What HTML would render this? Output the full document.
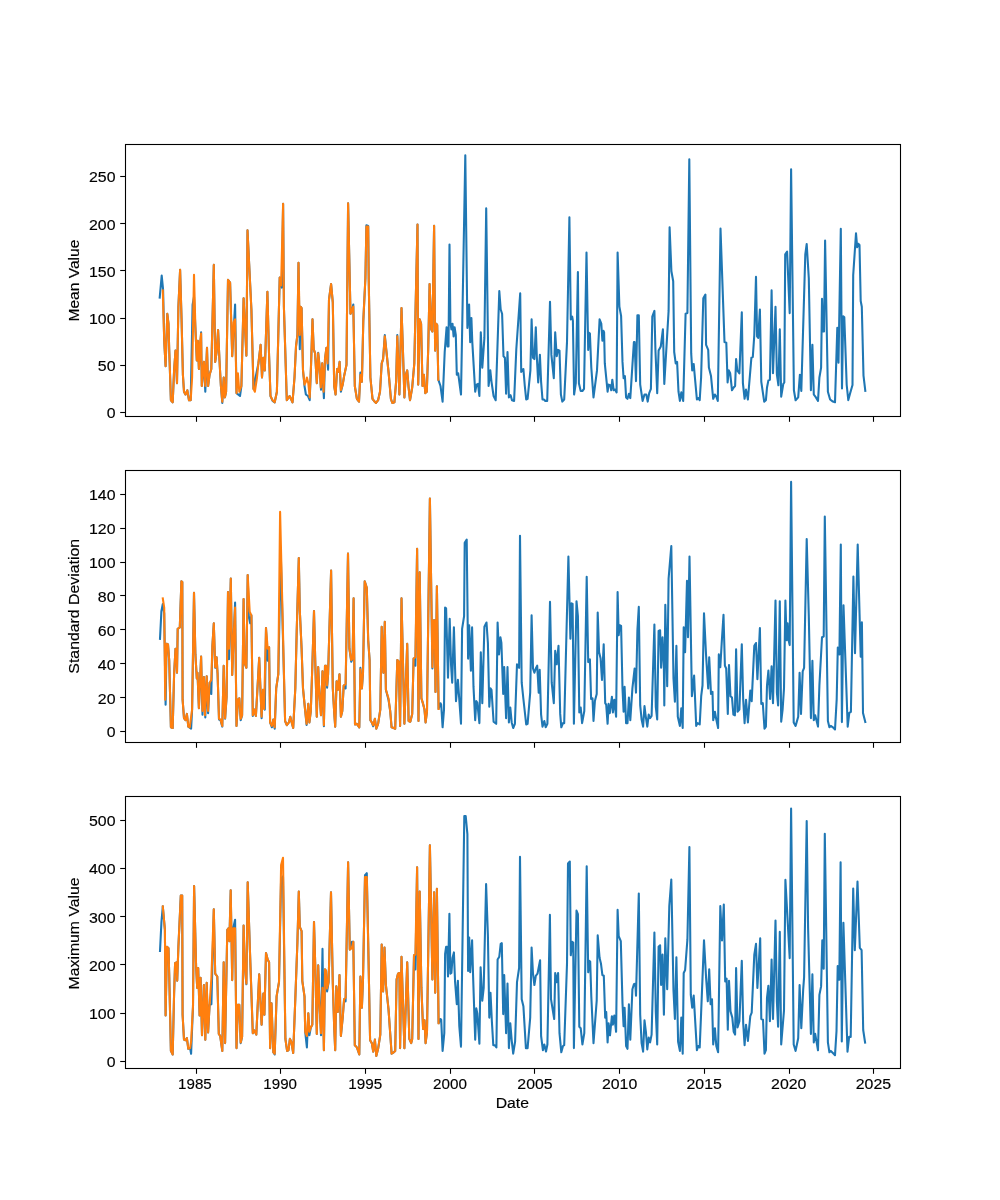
<!DOCTYPE html>
<html><head><meta charset="utf-8"><style>
html,body{margin:0;padding:0;background:#fff;}
svg{display:block;will-change:transform;}
svg text{font-family:"Liberation Sans",sans-serif;fill:#000;stroke:#000;stroke-width:0.15px;}
</style></head><body>
<svg width="1000" height="1200" viewBox="0 0 1000 1200">
<rect width="1000" height="1200" fill="#ffffff"/>
<svg x="125.0" y="144.0" width="775.0" height="271.76" viewBox="125.0 144.0 775.0 271.76" overflow="hidden">
<path d="M159.7,297.5 L161.7,275.5 L163.1,289.7 L164.2,340.7 L165.6,366.2 L167.3,313.8 L168.5,323.7 L169.2,349.2 L170.9,400.2 L172.7,402.3 L174.1,370.4 L175.5,350.6 L177.0,383.2 L178.4,306.7 L180.1,269.8 L181.6,320.9 L182.9,374.7 L184.0,391.7 L185.5,394.5 L187.3,390.3 L189.0,400.2 L190.7,400.2 L192.6,304.6 L194.0,296.8 L195.4,327.9 L196.8,360.5 L197.8,340.7 L198.9,369.0 L201.1,332.2 L201.8,386.0 L203.9,361.9 L205.3,391.7 L207.0,347.8 L208.1,386.0 L209.6,374.7 L211.3,369.0 L212.4,323.7 L213.8,264.9 L215.2,361.9 L216.6,352.0 L218.1,330.1 L219.5,360.5 L220.9,386.0 L222.3,403.0 L223.7,377.5 L224.9,397.4 L226.1,391.7 L228.0,279.8 L230.1,282.6 L232.2,356.3 L235.1,304.6 L236.5,393.1 L240.0,396.0 L241.4,386.0 L243.6,298.2 L246.4,355.6 L247.5,230.2 L251.4,309.5 L253.5,388.9 L255.6,377.5 L258.4,363.4 L260.6,344.9 L262.0,377.5 L263.4,357.7 L264.8,370.4 L267.4,291.8 L269.1,356.3 L270.5,396.0 L272.6,400.9 L274.7,402.3 L276.9,391.7 L279.7,277.6 L281.8,287.6 L283.1,203.7 L283.9,306.7 L286.8,400.2 L289.6,396.0 L292.5,402.3 L294.5,377.5 L296.0,346.4 L297.4,335.0 L298.5,262.8 L299.8,349.2 L300.6,306.7 L301.6,308.1 L303.0,370.4 L304.5,386.0 L305.9,394.5 L308.0,396.0 L309.7,400.2 L311.1,363.4 L312.5,319.4 L313.7,349.2 L315.1,353.4 L316.8,383.2 L318.2,352.7 L319.3,363.4 L321.0,389.6 L322.2,363.4 L323.9,398.1 L325.0,359.1 L326.4,347.8 L328.1,369.7 L329.0,299.6 L331.1,284.0 L332.8,302.4 L334.2,386.0 L335.6,394.5 L337.1,369.0 L338.2,371.9 L339.6,361.9 L340.9,391.7 L342.7,384.6 L344.1,376.1 L346.5,364.8 L348.1,203.4 L350.5,313.8 L352.2,309.5 L353.3,304.6 L354.8,386.0 L356.9,398.8 L359.0,401.6 L360.4,372.6 L361.9,381.8 L363.3,320.9 L365.4,278.3 L366.4,225.2 L368.2,225.9 L368.7,278.3 L370.4,377.5 L372.5,398.8 L374.6,401.6 L376.0,403.0 L378.1,400.2 L380.0,391.7 L381.7,363.4 L383.1,359.1 L384.8,335.0 L386.2,349.2 L388.8,374.7 L390.9,398.8 L392.3,403.0 L394.4,402.3 L396.1,381.8 L397.3,335.0 L399.4,394.5 L401.5,308.1 L402.9,349.2 L404.4,397.4 L405.8,374.7 L407.2,370.4 L408.6,387.5 L410.0,400.2 L412.2,387.5 L414.3,363.4 L417.5,224.5 L418.2,384.6 L419.7,319.4 L421.1,323.7 L422.5,386.0 L423.9,374.7 L425.3,393.1 L426.8,391.7 L428.2,349.2 L429.6,284.0 L431.3,329.4 L432.4,331.5 L434.1,225.8 L435.1,350.6 L436.2,323.7 L437.2,325.1 L438.3,379.7 L440.5,386.0 L442.6,401.6 L444.7,352.0 L446.6,327.2 L447.5,346.4 L448.5,346.4 L449.5,244.6 L450.4,322.3 L451.4,329.4 L452.5,323.7 L453.6,336.4 L454.6,327.2 L455.8,335.0 L456.8,374.7 L458.2,373.3 L461.0,394.5 L465.3,155.3 L467.4,327.9 L469.1,304.6 L470.2,342.1 L471.4,318.0 L472.3,342.1 L473.8,367.6 L475.2,391.7 L476.6,384.6 L478.0,383.9 L479.4,396.0 L480.8,332.2 L482.3,367.6 L484.4,337.9 L486.2,208.3 L488.6,386.0 L490.3,370.4 L491.5,381.8 L493.6,396.0 L495.7,400.2 L499.3,291.1 L500.7,309.5 L502.1,313.8 L503.5,356.3 L504.9,357.7 L506.1,393.8 L507.5,352.0 L508.9,397.4 L510.6,395.2 L512.0,400.2 L514.1,400.9 L516.3,349.2 L520.2,293.2 L521.2,371.9 L523.4,369.0 L524.8,386.0 L526.2,399.5 L527.6,398.8 L530.4,370.4 L531.6,319.4 L533.0,357.7 L534.4,359.1 L535.8,327.2 L536.8,356.3 L538.2,382.5 L539.9,354.9 L541.1,381.8 L542.5,399.5 L543.9,399.5 L545.3,400.9 L547.2,400.9 L550.0,301.7 L551.4,354.9 L553.8,378.2 L555.2,332.2 L556.7,356.3 L558.1,349.9 L559.5,350.6 L560.9,394.5 L562.3,401.6 L564.2,399.5 L567.0,342.1 L569.4,217.3 L570.8,319.4 L572.2,316.6 L572.9,320.9 L574.1,394.5 L575.8,383.2 L577.9,272.0 L578.9,383.2 L580.7,391.0 L582.4,391.0 L584.0,388.9 L586.5,252.6 L588.2,349.9 L589.2,332.9 L589.9,333.6 L591.3,367.6 L593.5,397.4 L597.0,370.4 L599.6,319.4 L601.3,323.7 L602.4,340.7 L603.4,330.8 L604.1,332.2 L604.8,363.4 L607.6,391.7 L608.6,384.6 L610.2,385.3 L611.2,390.3 L612.3,379.7 L613.7,390.3 L615.1,389.6 L616.6,392.4 L617.6,252.6 L619.4,306.7 L621.1,315.9 L622.5,361.9 L623.6,378.2 L624.9,376.1 L626.1,397.4 L627.5,398.8 L628.9,393.8 L630.3,398.1 L633.9,342.1 L634.6,342.1 L636.0,381.1 L637.4,315.2 L638.8,315.2 L640.2,384.6 L642.6,400.9 L644.5,394.5 L646.3,394.5 L647.7,401.6 L649.2,393.1 L650.9,388.9 L652.3,316.6 L654.4,310.9 L655.4,349.2 L657.2,393.1 L658.6,350.6 L660.8,346.4 L662.9,329.4 L664.3,383.9 L668.6,310.9 L669.6,227.3 L671.4,271.3 L673.2,281.2 L674.2,352.0 L675.7,363.4 L677.1,361.9 L678.5,391.7 L679.9,400.9 L681.3,392.4 L683.2,400.9 L685.6,313.8 L687.4,313.1 L689.3,159.2 L691.2,353.4 L692.2,370.4 L693.7,364.1 L696.9,399.5 L698.3,398.1 L699.7,400.2 L701.1,377.5 L703.3,298.2 L705.4,294.6 L706.1,344.9 L708.2,349.9 L708.9,367.6 L711.0,376.1 L713.2,398.8 L714.9,394.5 L716.3,396.7 L717.8,400.9 L720.5,228.6 L724.5,342.1 L726.3,342.8 L727.6,382.5 L728.8,370.4 L730.2,373.3 L732.0,390.3 L733.7,387.5 L735.1,386.0 L736.1,359.1 L737.3,370.4 L739.4,373.3 L741.8,312.3 L742.9,383.2 L744.6,398.8 L746.0,389.6 L747.9,399.5 L751.4,357.7 L752.8,357.0 L754.3,335.0 L756.0,276.9 L757.1,336.4 L758.2,337.9 L759.9,309.5 L761.3,381.8 L764.2,401.6 L765.9,400.2 L767.0,387.5 L768.4,380.4 L769.9,379.7 L771.6,290.4 L773.0,373.3 L775.5,306.7 L776.9,374.7 L778.4,385.3 L779.8,329.4 L781.2,396.7 L783.3,383.9 L784.3,382.5 L785.2,254.3 L787.1,251.7 L789.7,313.1 L791.1,169.2 L793.9,390.3 L795.6,400.2 L798.2,397.4 L799.9,374.7 L801.3,391.0 L805.3,254.3 L806.7,244.0 L808.8,278.3 L810.9,390.3 L812.4,344.9 L813.8,394.5 L815.9,397.4 L818.0,400.9 L819.4,377.5 L821.1,367.6 L822.0,298.9 L823.0,331.5 L824.0,331.5 L825.1,240.5 L827.9,391.7 L830.1,399.5 L832.9,401.6 L835.0,402.3 L837.3,327.8 L838.5,362.8 L840.8,228.7 L842.0,388.5 L843.2,316.2 L844.3,317.3 L846.7,385.0 L848.3,400.1 L850.2,393.1 L852.5,385.0 L853.2,275.3 L856.0,233.3 L857.2,247.3 L858.3,243.8 L859.5,245.0 L860.7,301.0 L861.8,306.8 L863.5,375.7 L865.3,390.8" fill="none" stroke="#1f77b4" stroke-width="2.08" stroke-linejoin="round" stroke-linecap="square"/>
<path d="M162.8,290.4 L164.2,340.7 L165.6,366.2 L167.3,313.8 L168.5,323.7 L169.2,349.2 L170.9,400.2 L172.7,402.3 L174.1,370.4 L175.5,350.6 L177.0,383.2 L178.4,306.7 L180.1,269.8 L181.6,320.9 L182.9,374.7 L184.0,391.7 L185.5,394.5 L187.3,390.3 L189.0,400.2 L190.7,400.2 L192.1,377.5 L194.0,274.8 L195.4,327.9 L196.8,360.5 L197.8,340.7 L198.9,369.0 L200.1,342.1 L201.1,333.6 L201.8,386.0 L203.9,361.9 L205.3,386.0 L207.0,347.8 L208.1,386.0 L209.6,374.7 L211.3,369.0 L212.4,323.7 L213.8,264.9 L215.2,361.9 L216.6,352.0 L218.1,330.1 L219.5,360.5 L220.9,386.0 L222.3,401.6 L223.7,377.5 L224.9,397.4 L226.1,391.7 L228.0,279.8 L230.1,282.6 L232.2,356.3 L233.6,322.3 L235.1,319.4 L236.5,393.1 L237.9,373.3 L239.3,391.7 L241.4,386.0 L243.6,298.2 L246.4,355.6 L247.5,230.2 L251.4,309.5 L253.5,388.9 L254.9,391.7 L257.0,377.5 L258.4,363.4 L260.6,344.9 L262.0,377.5 L263.4,357.7 L264.8,370.4 L267.4,291.8 L269.1,356.3 L270.5,396.0 L272.6,400.2 L274.7,402.3 L276.9,391.7 L279.7,277.6 L281.1,285.4 L283.1,203.7 L283.9,306.7 L286.8,400.2 L289.6,396.0 L292.5,402.3 L294.5,377.5 L296.0,346.4 L297.4,335.0 L298.5,262.8 L299.8,335.0 L300.6,306.7 L301.6,308.1 L303.0,370.4 L304.5,384.6 L305.9,381.8 L306.9,377.5 L308.3,383.2 L309.7,397.4 L311.1,363.4 L312.5,319.4 L313.7,349.2 L315.1,353.4 L316.8,383.2 L318.2,353.4 L319.3,363.4 L320.8,387.5 L322.2,363.4 L323.6,391.7 L325.0,359.1 L326.4,347.8 L327.6,363.4 L329.0,299.6 L331.1,284.0 L332.8,302.4 L334.2,386.0 L335.6,394.5 L337.1,369.0 L338.2,371.9 L339.6,361.9 L340.9,390.3 L342.7,384.6 L344.1,376.1 L346.5,364.8 L348.1,203.4 L350.5,313.8 L352.2,309.5 L353.3,306.7 L354.8,386.0 L356.9,398.8 L359.0,401.6 L360.4,374.7 L361.9,381.8 L363.3,320.9 L365.4,278.3 L366.4,226.6 L368.2,226.6 L368.7,278.3 L370.4,377.5 L372.5,398.8 L374.6,401.6 L376.0,403.0 L378.1,400.2 L380.0,391.7 L381.7,363.4 L383.1,359.1 L384.8,336.4 L386.2,349.2 L388.8,374.7 L390.9,398.8 L392.3,403.0 L394.4,402.3 L396.1,381.8 L397.3,336.4 L399.4,394.5 L401.5,308.1 L402.9,349.2 L404.4,397.4 L405.8,374.7 L407.2,370.4 L408.6,387.5 L410.0,400.2 L412.2,387.5 L414.3,363.4 L417.5,224.5 L418.2,384.6 L419.7,319.4 L421.1,323.7 L422.5,386.0 L423.9,374.7 L425.3,393.1 L426.8,391.7 L428.2,349.2 L429.6,284.0 L431.3,329.4 L432.4,331.5 L434.1,225.8 L435.1,350.6 L436.2,323.7 L437.2,325.1 L438.3,379.7" fill="none" stroke="#ff7f0e" stroke-width="2.08" stroke-linejoin="round" stroke-linecap="square"/>
</svg>
<rect x="125.5" y="144.5" width="775" height="272.0" fill="none" stroke="#000" stroke-width="1.1" stroke-linejoin="miter"/>
<line x1="196.50" y1="416.5" x2="196.50" y2="421.80" stroke="#000" stroke-width="1.1"/>
<line x1="280.50" y1="416.5" x2="280.50" y2="421.80" stroke="#000" stroke-width="1.1"/>
<line x1="365.50" y1="416.5" x2="365.50" y2="421.80" stroke="#000" stroke-width="1.1"/>
<line x1="450.50" y1="416.5" x2="450.50" y2="421.80" stroke="#000" stroke-width="1.1"/>
<line x1="534.50" y1="416.5" x2="534.50" y2="421.80" stroke="#000" stroke-width="1.1"/>
<line x1="619.50" y1="416.5" x2="619.50" y2="421.80" stroke="#000" stroke-width="1.1"/>
<line x1="704.50" y1="416.5" x2="704.50" y2="421.80" stroke="#000" stroke-width="1.1"/>
<line x1="789.50" y1="416.5" x2="789.50" y2="421.80" stroke="#000" stroke-width="1.1"/>
<line x1="873.50" y1="416.5" x2="873.50" y2="421.80" stroke="#000" stroke-width="1.1"/>
<line x1="120.2" y1="412.50" x2="125.5" y2="412.50" stroke="#000" stroke-width="1.1"/>
<text x="115.50" y="418.40" font-size="13.89" text-anchor="end" textLength="8.8" lengthAdjust="spacingAndGlyphs">0</text>
<line x1="120.2" y1="365.50" x2="125.5" y2="365.50" stroke="#000" stroke-width="1.1"/>
<text x="115.50" y="371.20" font-size="13.89" text-anchor="end" textLength="17.7" lengthAdjust="spacingAndGlyphs">50</text>
<line x1="120.2" y1="318.50" x2="125.5" y2="318.50" stroke="#000" stroke-width="1.1"/>
<text x="115.50" y="324.00" font-size="13.89" text-anchor="end" textLength="26.5" lengthAdjust="spacingAndGlyphs">100</text>
<line x1="120.2" y1="270.50" x2="125.5" y2="270.50" stroke="#000" stroke-width="1.1"/>
<text x="115.50" y="276.80" font-size="13.89" text-anchor="end" textLength="26.5" lengthAdjust="spacingAndGlyphs">150</text>
<line x1="120.2" y1="223.50" x2="125.5" y2="223.50" stroke="#000" stroke-width="1.1"/>
<text x="115.50" y="229.60" font-size="13.89" text-anchor="end" textLength="26.5" lengthAdjust="spacingAndGlyphs">200</text>
<line x1="120.2" y1="176.50" x2="125.5" y2="176.50" stroke="#000" stroke-width="1.1"/>
<text x="115.50" y="182.40" font-size="13.89" text-anchor="end" textLength="26.5" lengthAdjust="spacingAndGlyphs">250</text>
<text transform="translate(79.3,280.60) rotate(-90)" x="0" y="0" font-size="13.89" text-anchor="middle" textLength="81.8" lengthAdjust="spacingAndGlyphs">Mean Value</text>
<svg x="125.0" y="470.12" width="775.0" height="271.76" viewBox="125.0 470.12 775.0 271.76" overflow="hidden">
<path d="M160.0,638.8 L161.4,611.1 L162.8,604.0 L164.2,613.3 L165.6,704.7 L166.6,643.7 L168.0,644.4 L169.2,660.0 L170.9,727.3 L172.7,728.0 L174.1,674.2 L175.5,648.7 L176.5,650.1 L177.0,672.8 L177.7,628.8 L179.8,627.4 L181.4,581.4 L182.3,582.1 L182.6,699.7 L184.0,718.1 L185.5,720.2 L186.9,713.9 L188.3,726.6 L191.1,728.7 L192.1,709.6 L194.0,592.7 L195.4,654.4 L196.8,678.4 L197.5,672.8 L198.9,708.2 L201.1,656.5 L202.5,714.6 L203.9,677.0 L205.3,717.4 L206.7,676.3 L208.1,713.2 L209.6,682.7 L211.3,694.0 L212.4,645.9 L213.8,623.2 L215.2,667.8 L216.6,657.2 L217.6,674.2 L219.0,719.5 L220.5,720.2 L222.3,726.6 L223.7,665.7 L225.1,718.8 L226.6,696.9 L228.0,592.0 L229.0,659.3 L230.8,578.5 L232.2,674.9 L233.6,637.3 L235.1,602.6 L236.5,725.9 L237.9,699.7 L239.3,698.3 L240.7,720.2 L242.1,715.3 L243.6,599.1 L244.6,662.9 L246.4,667.8 L247.7,575.0 L248.8,616.1 L250.2,623.2 L251.4,615.4 L252.8,716.0 L254.2,709.6 L255.9,716.0 L259.2,657.9 L261.6,718.1 L263.0,689.8 L264.8,709.6 L266.0,628.1 L267.7,660.7 L269.1,647.3 L270.1,722.4 L271.9,727.3 L273.3,719.5 L274.7,728.7 L276.2,688.4 L278.3,674.2 L280.8,554.6 L285.1,721.0 L286.8,725.2 L288.9,722.4 L290.3,716.7 L291.7,722.4 L293.2,728.0 L295.3,688.4 L296.7,631.7 L298.8,558.1 L299.8,610.4 L301.6,648.7 L303.0,688.4 L305.2,711.0 L306.6,724.9 L308.3,703.9 L309.4,722.4 L310.8,711.0 L312.3,667.1 L314.0,611.1 L315.4,667.1 L316.8,716.7 L318.2,667.1 L319.3,691.2 L321.0,715.3 L322.5,671.4 L323.9,726.3 L325.0,665.7 L326.1,665.7 L327.1,687.7 L328.1,674.2 L331.1,570.5 L332.8,688.4 L334.2,712.5 L335.2,726.6 L336.6,681.3 L337.8,689.8 L339.5,674.2 L340.9,716.7 L342.3,711.0 L343.7,685.5 L345.6,688.4 L348.0,553.5 L349.4,648.7 L351.2,661.7 L352.6,658.6 L353.6,598.4 L355.0,724.5 L356.9,723.8 L359.3,727.3 L360.4,667.8 L361.9,688.4 L363.0,672.8 L364.7,581.4 L366.8,587.8 L368.2,640.2 L369.6,660.0 L370.4,720.2 L371.8,722.4 L373.2,726.3 L374.9,718.8 L376.3,728.7 L378.1,723.8 L380.3,709.6 L381.7,626.7 L383.4,672.8 L384.8,621.8 L385.9,689.8 L388.5,699.7 L390.2,711.0 L391.6,727.3 L393.7,728.0 L395.2,728.7 L397.3,660.0 L398.7,661.4 L400.1,725.9 L401.5,598.4 L404.4,723.8 L407.2,643.7 L408.6,721.0 L410.3,721.7 L412.2,713.9 L413.6,658.6 L415.4,665.7 L417.1,548.8 L418.5,721.0 L419.7,572.2 L421.4,698.3 L423.1,703.9 L424.5,709.6 L425.6,722.4 L427.0,711.0 L429.9,498.6 L432.4,668.5 L433.8,620.3 L434.8,620.3 L435.5,691.9 L436.9,586.3 L438.6,708.9 L440.5,703.2 L441.2,704.7 L442.6,727.3 L444.0,709.6 L445.1,607.6 L446.1,608.3 L448.0,677.7 L449.7,618.9 L451.1,665.7 L452.2,682.7 L453.9,627.4 L456.0,701.1 L457.9,679.9 L461.0,723.8 L462.1,628.8 L464.1,616.1 L464.7,542.7 L466.7,539.6 L468.1,658.6 L469.2,625.3 L470.9,670.6 L472.1,627.4 L473.5,686.9 L475.2,720.2 L476.3,701.1 L477.3,702.5 L479.4,723.1 L480.8,652.2 L482.3,703.2 L484.4,626.7 L486.5,622.5 L487.9,643.0 L489.3,706.8 L490.5,688.4 L491.5,689.8 L493.6,721.7 L496.2,723.8 L497.6,622.5 L499.0,654.4 L500.4,637.3 L501.4,643.0 L503.2,694.0 L504.2,667.1 L506.1,718.1 L507.5,667.1 L508.9,722.4 L510.3,707.5 L511.7,722.4 L513.2,728.0 L514.9,723.8 L517.0,664.3 L519.1,667.8 L520.0,535.7 L521.7,682.7 L523.4,699.0 L526.2,724.5 L527.6,723.8 L530.2,692.6 L531.6,615.4 L533.0,668.5 L534.4,672.8 L535.8,668.5 L537.2,665.7 L538.7,692.6 L539.7,669.9 L541.1,714.6 L542.5,726.6 L544.3,721.0 L545.7,727.3 L547.4,723.8 L550.0,601.9 L551.7,682.7 L553.8,703.2 L555.2,650.8 L556.7,664.3 L558.5,645.9 L560.2,713.9 L561.3,727.3 L563.0,723.1 L564.2,723.1 L566.5,631.7 L568.4,556.6 L570.4,638.8 L571.5,603.3 L572.6,604.0 L573.9,723.8 L576.5,601.2 L577.9,616.1 L579.3,712.5 L580.7,707.5 L582.1,723.1 L584.3,711.0 L586.7,576.8 L588.2,662.1 L589.9,659.3 L591.1,699.0 L592.5,698.3 L593.5,721.0 L594.9,701.1 L596.7,694.0 L597.7,612.6 L599.1,652.2 L600.6,658.6 L602.0,679.9 L603.7,644.4 L605.2,703.2 L606.2,704.7 L607.6,723.8 L608.6,703.9 L609.8,713.2 L611.9,696.9 L612.9,712.5 L614.3,699.7 L616.1,716.7 L617.6,592.0 L618.7,635.2 L619.7,625.3 L621.1,626.0 L622.5,688.4 L623.6,711.7 L624.6,686.9 L626.1,723.1 L627.5,723.1 L628.9,697.6 L630.3,720.2 L632.4,688.4 L634.6,668.5 L636.0,692.6 L637.4,630.3 L638.8,606.9 L640.2,705.4 L641.6,719.5 L643.1,726.6 L644.5,706.1 L645.6,715.3 L647.3,726.6 L648.7,714.6 L650.1,718.1 L651.6,716.0 L654.4,624.6 L655.8,706.8 L657.2,719.5 L658.6,631.0 L660.1,630.3 L661.1,667.8 L662.5,637.3 L663.9,668.5 L664.3,705.4 L665.3,604.8 L667.2,686.2 L668.6,578.5 L671.3,546.0 L673.5,678.4 L674.9,701.8 L676.4,645.9 L677.8,716.7 L679.9,725.9 L681.3,708.2 L682.7,728.0 L683.7,627.4 L685.1,652.2 L687.0,580.7 L688.0,637.3 L689.5,556.6 L691.9,696.2 L694.1,675.6 L696.2,725.9 L697.6,723.1 L699.7,724.5 L701.2,696.2 L702.5,685.5 L704.0,613.3 L706.1,655.8 L708.2,688.4 L709.2,657.2 L711.0,694.0 L712.5,691.9 L713.2,720.2 L714.9,711.7 L716.3,719.5 L718.1,728.0 L718.8,654.4 L720.3,667.1 L721.7,643.0 L723.5,614.7 L724.9,665.7 L726.2,668.5 L727.8,713.9 L729.0,665.0 L730.5,696.2 L732.0,697.6 L733.4,714.6 L734.9,715.3 L736.1,649.4 L737.5,711.7 L739.4,709.6 L741.8,644.4 L743.2,699.7 L744.6,723.1 L746.0,699.7 L747.9,722.4 L750.3,690.5 L751.7,701.1 L754.3,645.9 L756.0,643.0 L757.4,679.2 L759.9,628.1 L761.3,703.9 L762.8,703.2 L764.5,728.7 L765.9,726.6 L767.0,685.5 L768.4,670.6 L770.1,699.0 L771.6,666.4 L773.0,703.2 L775.5,600.5 L776.9,692.6 L778.1,705.4 L779.8,601.2 L781.2,721.7 L782.6,709.6 L784.0,688.4 L785.4,600.5 L786.6,640.2 L787.6,623.2 L788.6,640.2 L789.7,645.1 L791.1,481.9 L793.7,722.4 L795.6,725.9 L798.2,716.7 L799.6,672.8 L801.0,713.9 L802.7,671.4 L804.1,667.8 L806.7,539.1 L808.8,616.1 L810.9,718.1 L812.4,660.7 L813.8,720.2 L815.2,715.3 L818.0,726.6 L819.4,685.5 L822.0,637.3 L823.7,636.6 L824.8,516.5 L827.9,721.0 L829.4,727.3 L830.8,725.9 L832.9,727.3 L835.0,729.5 L836.7,699.1 L837.8,647.6 L839.4,654.5 L840.8,544.5 L841.9,722.1 L843.5,605.2 L847.7,726.6 L849.3,712.9 L850.9,711.8 L853.4,576.6 L855.0,653.3 L857.7,544.5 L860.7,656.8 L861.9,622.4 L863.0,712.9 L865.3,722.1" fill="none" stroke="#1f77b4" stroke-width="2.08" stroke-linejoin="round" stroke-linecap="square"/>
<path d="M162.8,598.4 L164.2,607.6 L165.2,699.7 L166.6,643.7 L168.0,644.4 L169.2,660.0 L170.9,727.3 L172.7,728.0 L174.1,674.2 L175.5,648.7 L176.5,650.1 L177.0,672.8 L177.7,628.8 L179.8,627.4 L181.4,581.4 L182.3,582.1 L182.6,699.7 L184.0,718.1 L185.5,720.2 L186.9,713.9 L188.3,726.6 L189.7,727.3 L192.1,709.6 L194.0,592.7 L195.4,654.4 L196.8,678.4 L197.5,672.8 L198.9,708.2 L201.1,656.5 L202.5,711.0 L203.9,677.0 L204.9,715.3 L206.7,676.3 L208.1,711.0 L209.6,682.7 L211.3,679.9 L212.4,645.9 L213.8,623.2 L215.2,667.1 L216.6,657.2 L217.6,674.2 L219.0,718.8 L220.5,719.5 L222.3,725.9 L223.7,665.7 L225.1,718.1 L226.6,696.9 L228.0,592.0 L229.0,648.7 L230.8,578.5 L232.2,674.9 L233.6,637.3 L235.1,607.6 L236.5,725.9 L237.9,699.7 L239.3,698.3 L240.7,718.8 L242.1,715.3 L243.6,599.1 L244.6,662.9 L246.4,667.8 L247.7,575.0 L249.7,611.8 L251.4,615.4 L252.8,715.3 L254.2,709.6 L255.9,716.0 L259.2,657.9 L261.6,716.7 L263.0,689.8 L264.1,708.9 L266.0,628.1 L267.7,648.7 L269.1,647.3 L270.1,722.4 L271.9,725.9 L273.3,719.5 L274.7,727.3 L276.2,688.4 L278.3,674.2 L280.1,511.9 L285.1,721.0 L286.8,725.2 L288.9,722.4 L290.3,716.7 L291.7,722.4 L293.2,728.0 L295.3,688.4 L296.7,631.7 L298.8,558.1 L299.8,610.4 L301.6,648.7 L303.0,688.4 L305.2,711.0 L306.6,723.8 L308.3,703.9 L309.4,722.4 L310.8,711.0 L312.3,667.1 L314.0,611.1 L315.4,667.1 L316.8,716.7 L318.2,667.1 L319.3,691.2 L321.0,715.3 L322.5,671.4 L323.9,725.2 L325.0,665.7 L326.1,665.7 L327.1,685.5 L328.1,674.2 L331.1,570.5 L332.8,688.4 L334.2,712.5 L335.2,726.6 L336.6,681.3 L337.8,689.8 L339.5,674.2 L340.9,716.7 L342.3,711.0 L343.7,685.5 L345.6,684.1 L348.0,553.5 L349.4,648.7 L351.2,660.0 L352.6,658.6 L353.6,598.4 L355.0,724.5 L356.9,723.8 L359.3,727.3 L360.4,669.2 L361.9,688.4 L363.0,672.8 L364.7,581.4 L366.8,587.8 L368.2,640.2 L369.6,660.0 L370.4,720.2 L371.8,722.4 L373.2,725.2 L374.9,718.8 L376.3,728.7 L378.1,723.8 L380.3,709.6 L381.7,626.7 L383.4,672.8 L384.8,621.8 L385.9,689.8 L388.5,698.3 L390.2,711.0 L391.6,727.3 L393.7,728.0 L395.2,728.7 L397.3,660.0 L398.7,661.4 L400.1,725.9 L401.5,598.4 L404.4,723.8 L407.2,643.7 L408.6,721.0 L410.3,721.7 L412.2,713.9 L413.6,658.6 L415.4,657.2 L417.1,548.8 L418.5,721.0 L419.7,572.2 L421.4,698.3 L423.1,703.9 L424.5,709.6 L425.6,722.4 L427.0,711.0 L429.9,498.6 L432.4,667.1 L433.8,620.3 L434.8,620.3 L435.5,691.9 L436.9,586.3 L438.6,708.9" fill="none" stroke="#ff7f0e" stroke-width="2.08" stroke-linejoin="round" stroke-linecap="square"/>
</svg>
<rect x="125.5" y="470.5" width="775" height="272.0" fill="none" stroke="#000" stroke-width="1.1" stroke-linejoin="miter"/>
<line x1="196.50" y1="742.5" x2="196.50" y2="747.80" stroke="#000" stroke-width="1.1"/>
<line x1="280.50" y1="742.5" x2="280.50" y2="747.80" stroke="#000" stroke-width="1.1"/>
<line x1="365.50" y1="742.5" x2="365.50" y2="747.80" stroke="#000" stroke-width="1.1"/>
<line x1="450.50" y1="742.5" x2="450.50" y2="747.80" stroke="#000" stroke-width="1.1"/>
<line x1="534.50" y1="742.5" x2="534.50" y2="747.80" stroke="#000" stroke-width="1.1"/>
<line x1="619.50" y1="742.5" x2="619.50" y2="747.80" stroke="#000" stroke-width="1.1"/>
<line x1="704.50" y1="742.5" x2="704.50" y2="747.80" stroke="#000" stroke-width="1.1"/>
<line x1="789.50" y1="742.5" x2="789.50" y2="747.80" stroke="#000" stroke-width="1.1"/>
<line x1="873.50" y1="742.5" x2="873.50" y2="747.80" stroke="#000" stroke-width="1.1"/>
<line x1="120.2" y1="731.50" x2="125.5" y2="731.50" stroke="#000" stroke-width="1.1"/>
<text x="115.50" y="737.40" font-size="13.89" text-anchor="end" textLength="8.8" lengthAdjust="spacingAndGlyphs">0</text>
<line x1="120.2" y1="697.50" x2="125.5" y2="697.50" stroke="#000" stroke-width="1.1"/>
<text x="115.50" y="703.54" font-size="13.89" text-anchor="end" textLength="17.7" lengthAdjust="spacingAndGlyphs">20</text>
<line x1="120.2" y1="663.50" x2="125.5" y2="663.50" stroke="#000" stroke-width="1.1"/>
<text x="115.50" y="669.68" font-size="13.89" text-anchor="end" textLength="17.7" lengthAdjust="spacingAndGlyphs">40</text>
<line x1="120.2" y1="629.50" x2="125.5" y2="629.50" stroke="#000" stroke-width="1.1"/>
<text x="115.50" y="635.82" font-size="13.89" text-anchor="end" textLength="17.7" lengthAdjust="spacingAndGlyphs">60</text>
<line x1="120.2" y1="595.50" x2="125.5" y2="595.50" stroke="#000" stroke-width="1.1"/>
<text x="115.50" y="601.96" font-size="13.89" text-anchor="end" textLength="17.7" lengthAdjust="spacingAndGlyphs">80</text>
<line x1="120.2" y1="562.50" x2="125.5" y2="562.50" stroke="#000" stroke-width="1.1"/>
<text x="115.50" y="568.10" font-size="13.89" text-anchor="end" textLength="26.5" lengthAdjust="spacingAndGlyphs">100</text>
<line x1="120.2" y1="528.50" x2="125.5" y2="528.50" stroke="#000" stroke-width="1.1"/>
<text x="115.50" y="534.24" font-size="13.89" text-anchor="end" textLength="26.5" lengthAdjust="spacingAndGlyphs">120</text>
<line x1="120.2" y1="494.50" x2="125.5" y2="494.50" stroke="#000" stroke-width="1.1"/>
<text x="115.50" y="500.38" font-size="13.89" text-anchor="end" textLength="26.5" lengthAdjust="spacingAndGlyphs">140</text>
<text transform="translate(79.3,606.25) rotate(-90)" x="0" y="0" font-size="13.89" text-anchor="middle" textLength="134.8" lengthAdjust="spacingAndGlyphs">Standard Deviation</text>
<svg x="125.0" y="796.24" width="775.0" height="271.76" viewBox="125.0 796.24 775.0 271.76" overflow="hidden">
<path d="M160.0,951.0 L161.4,922.7 L162.8,906.4 L164.9,929.8 L165.6,1015.5 L167.0,946.8 L168.5,948.2 L169.2,973.7 L170.9,1050.9 L172.7,1054.5 L174.1,993.5 L175.1,963.1 L176.5,962.3 L177.2,980.8 L178.4,946.8 L180.8,895.5 L182.2,895.5 L182.6,1014.8 L184.0,1039.6 L185.5,1040.3 L186.9,1038.2 L188.3,1048.8 L190.1,1048.1 L191.1,1053.7 L193.0,1006.3 L194.1,886.0 L196.1,966.6 L197.2,987.9 L198.2,968.0 L199.6,1015.5 L200.6,977.9 L202.0,1035.3 L203.9,985.0 L205.3,1039.6 L206.7,982.9 L208.1,1032.5 L209.6,1004.9 L211.4,1004.2 L213.8,909.2 L215.2,973.7 L217.3,976.5 L218.8,1033.9 L220.2,1036.0 L222.3,1050.9 L223.7,962.3 L225.1,1043.1 L227.3,929.8 L228.4,928.3 L229.4,941.1 L230.7,890.2 L232.2,980.1 L233.2,928.3 L235.1,919.8 L236.5,1048.1 L237.9,1004.9 L239.3,1004.9 L240.7,1043.1 L242.1,1036.7 L243.6,925.5 L244.6,963.8 L246.4,984.3 L247.7,882.3 L249.9,949.6 L252.8,1033.2 L254.2,1030.4 L256.3,1034.6 L259.2,974.4 L261.6,1024.7 L263.4,993.5 L264.4,1014.8 L266.0,953.1 L267.7,959.5 L269.1,962.3 L270.1,1048.1 L271.5,1003.4 L273.3,1052.3 L274.7,1054.5 L276.6,996.4 L279.0,982.2 L281.1,878.7 L283.0,876.3 L285.4,1038.9 L287.1,1050.9 L288.5,1050.2 L289.9,1038.9 L291.3,1041.7 L293.2,1053.0 L295.3,999.2 L297.4,942.5 L298.8,891.6 L299.8,926.9 L301.6,931.2 L302.3,980.8 L304.5,996.4 L305.2,1031.8 L306.9,1047.4 L308.3,1013.4 L309.4,1035.3 L310.8,1027.5 L312.3,1024.7 L314.0,922.0 L315.4,970.9 L316.8,1033.9 L318.2,965.2 L319.3,999.2 L321.0,1035.3 L322.5,948.9 L323.9,1050.2 L325.0,969.4 L326.1,970.9 L327.1,991.4 L328.6,982.2 L331.0,892.3 L332.8,983.6 L334.2,1027.5 L335.2,1050.2 L336.3,986.4 L337.8,1011.9 L339.5,975.1 L340.9,1036.0 L342.7,1017.6 L344.1,999.2 L345.6,1001.3 L348.1,862.3 L349.8,949.6 L351.9,941.8 L353.3,941.8 L354.8,1045.2 L356.9,1047.4 L359.3,1054.5 L360.4,976.5 L361.9,1007.7 L363.0,979.4 L365.0,875.2 L366.8,873.2 L368.2,942.5 L370.1,1040.3 L371.8,1043.1 L373.2,1051.6 L374.9,1039.6 L376.3,1055.9 L378.1,1048.8 L380.3,1034.6 L381.7,944.6 L383.1,991.4 L384.5,947.5 L385.9,985.0 L388.5,1009.1 L390.2,1033.2 L391.6,1053.7 L393.7,1052.3 L395.2,1050.9 L396.6,979.4 L398.0,973.7 L399.4,973.0 L400.1,1048.1 L401.5,956.7 L404.4,1048.1 L407.2,962.3 L409.3,1038.9 L411.2,1043.1 L412.2,1038.9 L414.0,955.3 L415.4,969.4 L417.1,867.3 L418.5,1038.9 L419.7,891.6 L421.4,987.9 L423.1,1028.9 L424.5,1020.4 L425.6,1043.1 L427.0,1031.8 L429.9,845.3 L432.4,979.4 L434.1,892.2 L435.2,992.8 L436.9,888.8 L438.6,1023.3 L440.5,1019.0 L441.2,1019.7 L442.6,1050.9 L444.3,1033.2 L445.1,953.8 L446.1,946.8 L447.1,946.8 L448.0,976.5 L449.4,913.7 L450.4,973.7 L451.4,973.0 L452.5,958.1 L453.9,952.4 L455.1,982.2 L456.8,1004.2 L457.9,980.8 L459.3,1026.1 L461.0,1046.7 L464.3,816.0 L465.7,816.0 L467.4,834.1 L468.1,970.9 L469.2,937.6 L470.2,972.3 L472.1,940.4 L473.1,976.5 L475.2,1039.6 L476.3,1008.4 L477.3,1013.4 L479.4,1043.8 L480.6,967.3 L482.3,1000.6 L483.7,987.9 L486.1,884.1 L487.9,935.4 L489.3,1017.6 L490.5,992.8 L491.9,1021.9 L493.3,1045.2 L494.7,1045.2 L496.4,1047.4 L497.6,959.5 L499.3,956.7 L500.7,943.9 L501.8,943.2 L503.2,1014.1 L504.2,975.1 L506.1,1033.2 L507.5,983.6 L508.9,1048.1 L510.3,1023.3 L511.7,1040.3 L513.2,1053.7 L515.1,1041.7 L517.0,982.2 L519.1,968.0 L520.0,856.9 L521.7,999.2 L523.4,1006.3 L525.9,1048.1 L527.6,1048.1 L530.2,1017.6 L531.6,947.5 L533.0,973.7 L534.4,985.0 L535.8,975.8 L537.5,973.7 L540.1,960.2 L541.1,1036.0 L542.9,1050.2 L544.3,1044.5 L546.0,1051.6 L547.4,1044.5 L549.9,914.9 L551.0,999.2 L554.2,1019.0 L555.2,973.0 L556.7,982.2 L558.1,973.0 L559.5,1033.2 L561.3,1052.3 L563.0,1046.0 L564.2,1045.2 L567.0,963.8 L568.0,863.4 L569.8,861.6 L570.8,955.3 L572.2,941.8 L573.2,942.5 L573.9,1048.1 L576.5,910.6 L577.9,914.2 L579.3,1026.8 L580.7,1028.2 L582.4,1044.5 L584.3,1033.2 L586.7,866.3 L588.2,972.3 L589.2,960.9 L590.2,961.6 L591.3,996.4 L593.5,1043.1 L596.7,1000.6 L597.7,935.4 L599.6,958.1 L601.0,963.8 L602.4,975.1 L603.8,975.8 L605.2,1017.6 L606.2,1011.9 L607.6,1042.4 L608.6,1023.3 L610.0,1035.3 L611.9,1016.2 L612.9,1024.7 L614.3,1015.5 L616.1,1031.8 L617.6,909.9 L618.7,936.1 L620.8,941.1 L622.5,1003.4 L623.6,1026.1 L624.6,1007.7 L626.1,1046.0 L627.5,1048.8 L628.9,1004.2 L630.3,1039.6 L632.4,989.3 L633.9,984.3 L635.3,983.6 L636.0,995.6 L638.8,893.6 L640.2,1014.8 L641.6,1043.1 L643.1,1051.6 L644.5,1020.4 L645.9,1031.8 L647.3,1049.5 L648.7,1037.5 L650.1,1042.4 L651.6,1034.6 L654.4,932.6 L655.8,1011.9 L657.2,1044.5 L658.6,946.8 L660.1,945.3 L661.1,985.0 L662.5,954.6 L663.9,1014.8 L665.3,938.3 L667.2,989.3 L669.3,906.0 L671.3,879.5 L673.5,990.7 L674.9,1019.0 L676.4,957.4 L678.1,1041.7 L679.9,1050.9 L681.3,1017.6 L682.7,1053.7 L683.7,973.0 L685.1,970.1 L687.4,939.7 L689.4,847.0 L690.8,994.9 L692.2,1007.7 L693.7,995.6 L696.9,1050.2 L698.3,1046.0 L699.7,1047.4 L701.1,1013.4 L704.0,940.4 L706.1,977.9 L707.8,1001.3 L709.2,969.4 L710.6,1004.2 L712.0,999.2 L713.2,1044.5 L714.9,1028.2 L716.3,1046.0 L718.1,1052.3 L720.3,906.0 L722.0,940.4 L723.8,904.5 L725.2,981.5 L726.6,978.6 L727.8,1029.7 L729.0,980.8 L730.5,1011.2 L732.3,1017.6 L733.7,1031.8 L735.1,1034.6 L736.1,968.0 L737.5,1027.5 L739.4,1021.2 L741.8,960.9 L743.2,1023.3 L744.6,1045.2 L746.0,1024.7 L747.9,1041.0 L750.3,1016.2 L751.7,1012.7 L754.3,954.6 L756.0,943.9 L757.4,987.9 L760.2,938.3 L761.3,1019.0 L763.0,1019.7 L764.5,1053.7 L765.9,1050.2 L767.0,997.8 L768.4,985.7 L769.9,1021.2 L771.6,959.5 L773.0,1019.0 L775.5,920.5 L776.9,1002.0 L778.1,1026.8 L779.8,931.9 L781.2,1044.5 L784.0,1010.5 L785.4,879.9 L789.7,958.1 L791.1,808.5 L793.7,1044.5 L795.6,1050.9 L798.2,1038.2 L799.6,985.0 L801.3,1028.2 L803.2,989.3 L804.1,977.2 L806.7,821.1 L808.1,928.3 L810.9,1033.9 L812.4,974.4 L813.8,1042.4 L815.2,1033.9 L818.0,1050.2 L819.4,994.9 L821.1,986.4 L822.3,940.4 L823.7,968.7 L824.8,833.8 L827.9,1042.4 L829.4,1052.3 L830.8,1050.9 L832.9,1053.0 L835.0,1055.2 L836.5,1031.2 L837.7,966.1 L839.3,979.8 L840.6,862.2 L841.8,1041.4 L843.4,922.7 L847.5,1051.7 L849.1,1036.9 L850.7,1036.9 L853.2,888.5 L854.8,950.1 L857.5,881.6 L859.8,947.8 L861.6,950.1 L863.2,1030.0 L865.1,1042.6" fill="none" stroke="#1f77b4" stroke-width="2.08" stroke-linejoin="round" stroke-linecap="square"/>
<path d="M162.8,906.4 L164.9,929.8 L165.6,1015.5 L167.0,946.8 L168.5,948.2 L169.2,973.7 L170.9,1050.9 L172.7,1054.5 L174.1,993.5 L175.1,963.1 L176.5,962.3 L177.2,980.8 L178.4,946.8 L180.8,895.5 L182.2,895.5 L182.6,1014.8 L184.0,1039.6 L185.5,1040.3 L186.9,1038.2 L188.3,1048.8 L190.1,1048.1 L191.1,1041.7 L193.0,1006.3 L194.1,886.0 L196.1,966.6 L197.2,987.9 L198.2,968.0 L199.6,1015.5 L200.6,977.9 L202.0,1035.3 L203.9,985.0 L205.3,1039.6 L206.7,982.9 L208.1,1032.5 L209.6,1004.9 L211.4,977.9 L213.8,909.2 L215.2,973.7 L217.3,976.5 L218.8,1033.9 L220.2,1036.0 L222.3,1050.9 L223.7,962.3 L225.1,1043.1 L227.3,929.8 L228.4,928.3 L229.4,941.1 L230.7,890.2 L232.2,980.1 L233.2,928.3 L235.1,928.3 L236.5,1048.1 L237.9,1004.9 L239.3,1004.9 L240.7,1042.4 L242.1,1036.7 L243.6,925.5 L244.6,963.8 L246.4,983.6 L247.7,882.3 L249.9,949.6 L252.8,1033.2 L254.2,1030.4 L256.3,1034.6 L259.2,974.4 L261.6,1024.7 L263.4,993.5 L264.4,1014.8 L266.0,953.1 L267.7,959.5 L269.1,962.3 L270.1,1048.1 L271.5,1003.4 L273.3,1052.3 L274.7,1053.7 L276.6,996.4 L279.0,982.2 L281.1,865.1 L283.0,857.8 L285.4,1038.9 L287.1,1050.9 L288.5,1050.2 L289.9,1038.9 L291.3,1041.7 L293.2,1053.0 L295.3,999.2 L297.4,942.5 L298.8,891.6 L299.8,926.9 L301.6,931.2 L302.3,980.8 L304.5,996.4 L305.2,1031.8 L306.9,1036.0 L308.3,1013.4 L309.4,1031.8 L310.8,1027.5 L312.3,1024.7 L314.0,922.0 L315.4,970.9 L316.8,1033.9 L318.2,965.2 L319.3,999.2 L321.0,1033.2 L322.5,987.9 L323.9,1050.2 L325.0,969.4 L326.1,970.9 L327.1,988.6 L328.6,982.2 L331.0,892.3 L332.8,983.6 L334.2,1027.5 L335.2,1050.2 L336.3,986.4 L337.8,1011.9 L339.5,975.1 L340.9,1036.0 L342.7,1017.6 L344.1,999.2 L345.6,997.8 L348.1,862.3 L349.8,949.6 L351.9,948.2 L353.3,941.8 L354.8,1045.2 L356.9,1047.4 L359.3,1054.5 L360.4,976.5 L361.9,1007.7 L363.0,979.4 L365.0,877.0 L366.8,877.0 L368.2,942.5 L370.1,1040.3 L371.8,1043.1 L373.2,1051.6 L374.9,1039.6 L376.3,1055.9 L378.1,1048.8 L380.3,1034.6 L381.7,944.6 L383.1,991.4 L384.5,947.5 L385.9,985.0 L388.5,1009.1 L390.2,1033.2 L391.6,1053.7 L393.7,1052.3 L395.2,1050.9 L396.6,979.4 L398.0,973.7 L399.4,973.0 L400.1,1048.1 L401.5,956.7 L404.4,1048.1 L407.2,962.3 L409.3,1038.9 L411.2,1043.1 L412.2,1038.9 L414.0,955.3 L415.4,954.6 L417.1,867.3 L418.5,1038.9 L419.7,891.6 L421.4,987.9 L423.1,1028.9 L424.5,1020.4 L425.6,1043.1 L427.0,1031.8 L429.9,845.3 L432.4,979.4 L434.1,892.2 L435.2,992.8 L436.9,888.8 L438.6,1023.3" fill="none" stroke="#ff7f0e" stroke-width="2.08" stroke-linejoin="round" stroke-linecap="square"/>
</svg>
<rect x="125.5" y="796.5" width="775" height="272.0" fill="none" stroke="#000" stroke-width="1.1" stroke-linejoin="miter"/>
<line x1="196.50" y1="1068.5" x2="196.50" y2="1073.80" stroke="#000" stroke-width="1.1"/>
<text x="194.90" y="1089" font-size="13.89" text-anchor="middle" textLength="33.6" lengthAdjust="spacingAndGlyphs">1985</text>
<line x1="280.50" y1="1068.5" x2="280.50" y2="1073.80" stroke="#000" stroke-width="1.1"/>
<text x="280.19" y="1089" font-size="13.89" text-anchor="middle" textLength="33.6" lengthAdjust="spacingAndGlyphs">1990</text>
<line x1="365.50" y1="1068.5" x2="365.50" y2="1073.80" stroke="#000" stroke-width="1.1"/>
<text x="365.18" y="1089" font-size="13.89" text-anchor="middle" textLength="33.9" lengthAdjust="spacingAndGlyphs">1995</text>
<line x1="450.50" y1="1068.5" x2="450.50" y2="1073.80" stroke="#000" stroke-width="1.1"/>
<text x="450.07" y="1089" font-size="13.89" text-anchor="middle" textLength="33.9" lengthAdjust="spacingAndGlyphs">2000</text>
<line x1="534.50" y1="1068.5" x2="534.50" y2="1073.80" stroke="#000" stroke-width="1.1"/>
<text x="535.00" y="1089" font-size="13.89" text-anchor="middle" textLength="35.3" lengthAdjust="spacingAndGlyphs">2005</text>
<line x1="619.50" y1="1068.5" x2="619.50" y2="1073.80" stroke="#000" stroke-width="1.1"/>
<text x="619.59" y="1089" font-size="13.89" text-anchor="middle" textLength="35.3" lengthAdjust="spacingAndGlyphs">2010</text>
<line x1="704.50" y1="1068.5" x2="704.50" y2="1073.80" stroke="#000" stroke-width="1.1"/>
<text x="704.18" y="1089" font-size="13.89" text-anchor="middle" textLength="35.3" lengthAdjust="spacingAndGlyphs">2015</text>
<line x1="789.50" y1="1068.5" x2="789.50" y2="1073.80" stroke="#000" stroke-width="1.1"/>
<text x="788.77" y="1089" font-size="13.89" text-anchor="middle" textLength="35.3" lengthAdjust="spacingAndGlyphs">2020</text>
<line x1="873.50" y1="1068.5" x2="873.50" y2="1073.80" stroke="#000" stroke-width="1.1"/>
<text x="873.41" y="1089" font-size="13.89" text-anchor="middle" textLength="35.3" lengthAdjust="spacingAndGlyphs">2025</text>
<line x1="120.2" y1="1061.50" x2="125.5" y2="1061.50" stroke="#000" stroke-width="1.1"/>
<text x="115.50" y="1067.40" font-size="13.89" text-anchor="end" textLength="8.8" lengthAdjust="spacingAndGlyphs">0</text>
<line x1="120.2" y1="1013.50" x2="125.5" y2="1013.50" stroke="#000" stroke-width="1.1"/>
<text x="115.50" y="1019.16" font-size="13.89" text-anchor="end" textLength="26.5" lengthAdjust="spacingAndGlyphs">100</text>
<line x1="120.2" y1="964.50" x2="125.5" y2="964.50" stroke="#000" stroke-width="1.1"/>
<text x="115.50" y="970.92" font-size="13.89" text-anchor="end" textLength="26.5" lengthAdjust="spacingAndGlyphs">200</text>
<line x1="120.2" y1="916.50" x2="125.5" y2="916.50" stroke="#000" stroke-width="1.1"/>
<text x="115.50" y="922.68" font-size="13.89" text-anchor="end" textLength="26.5" lengthAdjust="spacingAndGlyphs">300</text>
<line x1="120.2" y1="868.50" x2="125.5" y2="868.50" stroke="#000" stroke-width="1.1"/>
<text x="115.50" y="874.44" font-size="13.89" text-anchor="end" textLength="26.5" lengthAdjust="spacingAndGlyphs">400</text>
<line x1="120.2" y1="820.50" x2="125.5" y2="820.50" stroke="#000" stroke-width="1.1"/>
<text x="115.50" y="826.20" font-size="13.89" text-anchor="end" textLength="26.5" lengthAdjust="spacingAndGlyphs">500</text>
<text transform="translate(79.3,933.40) rotate(-90)" x="0" y="0" font-size="13.89" text-anchor="middle" textLength="112.0" lengthAdjust="spacingAndGlyphs">Maximum Value</text>
<text x="512.3" y="1108" font-size="13.89" text-anchor="middle" textLength="33.3" lengthAdjust="spacingAndGlyphs">Date</text>
</svg>
</body></html>
